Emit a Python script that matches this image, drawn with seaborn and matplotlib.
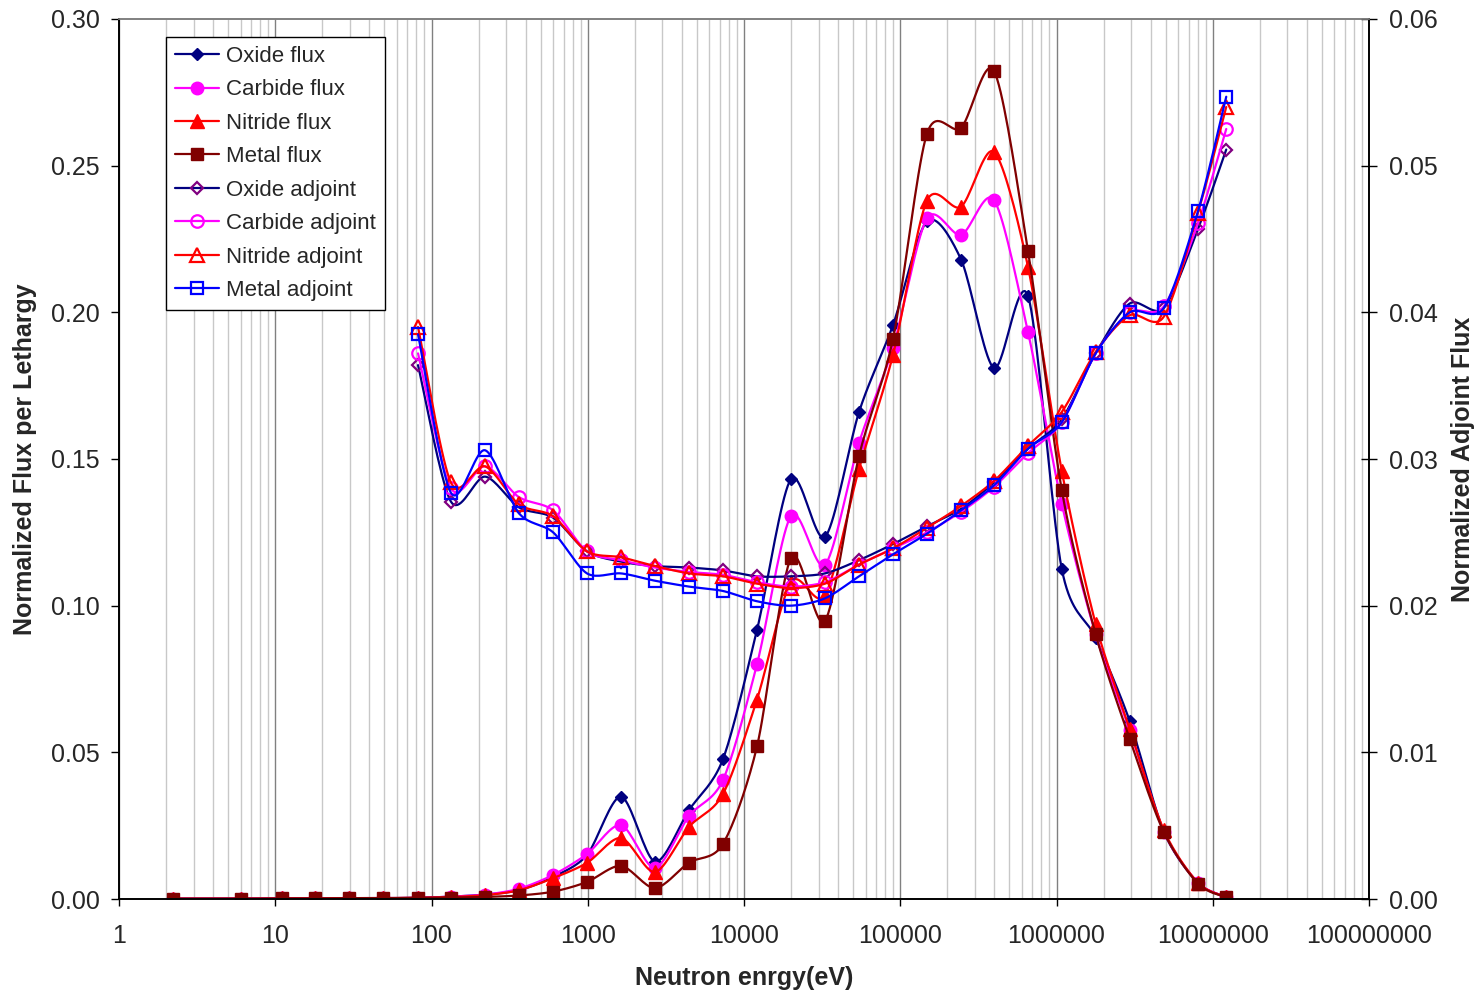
import numpy as np
import seaborn as sns
import matplotlib
matplotlib.use('Agg')
import matplotlib.pyplot as plt
from matplotlib.lines import Line2D
from matplotlib.ticker import (LogLocator, FuncFormatter, MultipleLocator, NullFormatter,
                               FixedLocator)

# energy points (eV)
energy = [2.2, 6.0, 11.0, 18.0, 29.6, 49, 82, 133, 220, 363, 600, 989, 1633, 2694,
          4446, 7340, 12110, 19990, 33000, 54450, 89900, 148000, 245000, 398000,
          657000, 1.08e6, 1.78e6, 2.94e6, 4.86e6, 8.05e6, 1.22e7]
energy_adj = energy[6:]
x_ticks = [1, 10, 100, 1000, 10000, 100000, 1000000, 10000000, 100000000]

oxide_flux = [0.0001, 0.0001, 0.0002, 0.0002, 0.0003, 0.0003, 0.0004, 0.0008, 0.0015, 0.003,
              0.0075, 0.015, 0.0349, 0.0127, 0.0303, 0.0477, 0.0917, 0.1432, 0.1234, 0.166,
              0.1957, 0.231, 0.218, 0.181, 0.2056, 0.1126, 0.089, 0.0607, 0.023, 0.0055, 0.0007]
carbide_flux = [0.0001, 0.0001, 0.0002, 0.0002, 0.0003, 0.0003, 0.0004, 0.0008, 0.0015, 0.0035,
                0.0082, 0.0153, 0.0252, 0.0106, 0.0283, 0.0406, 0.080, 0.1306, 0.1139, 0.1555,
                0.188, 0.232, 0.2264, 0.2383, 0.1933, 0.1348, 0.0903, 0.0575, 0.023, 0.0055, 0.0007]
nitride_flux = [0.0001, 0.0001, 0.0002, 0.0002, 0.0003, 0.0003, 0.0004, 0.0007, 0.0013, 0.003,
                0.0071, 0.0123, 0.0208, 0.0092, 0.0246, 0.0358, 0.068, 0.108, 0.1036, 0.1466,
                0.1855, 0.238, 0.236, 0.2547, 0.2155, 0.146, 0.0938, 0.058, 0.0235, 0.0055, 0.0007]
metal_flux = [0.0001, 0.0001, 0.0002, 0.0002, 0.0003, 0.0003, 0.0004, 0.0005, 0.0007, 0.0012,
              0.0025, 0.0058, 0.0113, 0.0037, 0.0124, 0.0188, 0.052, 0.1163, 0.0948, 0.151,
              0.191, 0.2608, 0.2629, 0.2823, 0.221, 0.1395, 0.0903, 0.0546, 0.0228, 0.0052, 0.0006]

oxide_adj = [0.0364, 0.0271, 0.0288, 0.0267, 0.026, 0.0237, 0.023, 0.0227, 0.0226, 0.0224,
             0.022, 0.022, 0.0222, 0.0231, 0.0242, 0.0254, 0.0266, 0.0284, 0.0307, 0.0327,
             0.0372, 0.0406, 0.0403, 0.0457, 0.0511]
carbide_adj = [0.0372, 0.028, 0.0295, 0.0274, 0.0265, 0.0237, 0.0231, 0.0226, 0.0223, 0.0221,
               0.0216, 0.0213, 0.0216, 0.0228, 0.0239, 0.025, 0.0264, 0.0281, 0.0304, 0.0325,
               0.0372, 0.04, 0.0404, 0.0461, 0.0525]
nitride_adj = [0.039, 0.0284, 0.0295, 0.0269, 0.0261, 0.0237, 0.0233, 0.0227, 0.0222, 0.022,
               0.0215, 0.0212, 0.0215, 0.0228, 0.0239, 0.0253, 0.0268, 0.0285, 0.0309, 0.0332,
               0.0373, 0.0398, 0.0397, 0.0468, 0.054]
metal_adj = [0.0385, 0.0277, 0.0306, 0.0263, 0.025, 0.0222, 0.0222, 0.0217, 0.0213, 0.021,
             0.0203, 0.02, 0.0205, 0.022, 0.0235, 0.0249, 0.0265, 0.0282, 0.0307, 0.0325,
             0.0372, 0.04, 0.0403, 0.0469, 0.0547]

sns.set_theme(style='white')
plt.rcParams['font.family'] = ['Liberation Sans', 'DejaVu Sans']


def smooth(x, y, ymax):
    # Excel-like smoothed line: bezier through the points, in screen-like units
    k = (880 / 156.25) / ymax
    p = np.column_stack([np.log10(x), np.asarray(y) * k])
    p = np.vstack([p[0], p, p[-1]])
    t = np.linspace(0, 1, 20)[:, None]
    out = []
    for i in range(1, len(p) - 2):
        p0, p1, p2, p3 = p[i - 1], p[i], p[i + 1], p[i + 2]
        c1 = p1 + (p2 - p0) / 7
        c2 = p2 - (p3 - p1) / 7
        seg = (1 - t) ** 3 * p1 + 3 * (1 - t) ** 2 * t * c1 + 3 * (1 - t) * t ** 2 * c2 + t ** 3 * p2
        out.append(seg if i == 1 else seg[1:])
    out = np.vstack(out)
    return 10 ** out[:, 0], out[:, 1] / k


fig = plt.figure(figsize=(14.81, 9.96), dpi=100)
ax = fig.add_axes([119 / 1481, 1 - 899 / 996, 1250 / 1481, 880 / 996])
ax.set_xscale('log')
ax.set_xlim(1, 1e8)
ax.set_ylim(0, 0.30)
ax2 = ax.twinx()
ax2.set_ylim(0, 0.06)

flux_series = [
    ('Oxide flux', oxide_flux, '#000080', 'D', '#000080', 6.5),
    ('Carbide flux', carbide_flux, '#FF00FF', 'o', '#FF00FF', 9),
    ('Nitride flux', nitride_flux, '#FF0000', '^', '#FF0000', 9.5),
    ('Metal flux', metal_flux, '#800000', 's', '#800000', 9),
]
adj_series = [
    ('Oxide adjoint', oxide_adj, '#000080', 'D', '#800080', 6.5),
    ('Carbide adjoint', carbide_adj, '#FF00FF', 'o', '#FF00FF', 9),
    ('Nitride adjoint', nitride_adj, '#FF0000', '^', '#FF0000', 9.5),
    ('Metal adjoint', metal_adj, '#0000FF', 's', '#0000FF', 9),
]

handles = []
for name, vals, lc, mk, mc, ms in flux_series:
    xs, ys = smooth(energy, vals, 0.30)
    sns.lineplot(x=xs, y=ys, ax=ax, color=lc, lw=1.6, sort=False, estimator=None)
    ax.plot(energy, vals, ls='none', marker=mk, ms=ms, mfc=mc, mec=mc)
    handles.append(Line2D([], [], color=lc, lw=1.6, marker=mk, ms=ms, mfc=mc, mec=mc, label=name))

for name, vals, lc, mk, mc, ms in adj_series:
    xs, ys = smooth(energy_adj, vals, 0.06)
    sns.lineplot(x=xs, y=ys, ax=ax2, color=lc, lw=1.6, sort=False, estimator=None)
    ax2.plot(energy_adj, vals, ls='none', marker=mk, ms=ms, mfc='none', mec=mc, mew=1.6)
    handles.append(Line2D([], [], color=lc, lw=1.6, marker=mk, ms=ms, mfc='none', mec=mc,
                          mew=1.6, label=name))

# grid and ticks
ax.xaxis.set_major_locator(FixedLocator(x_ticks))
ax.xaxis.set_minor_locator(LogLocator(base=10, subs=np.arange(2, 10), numticks=200))
ax.xaxis.set_major_formatter(FuncFormatter(lambda v, p: f'{int(round(v))}'))
ax.xaxis.set_minor_formatter(NullFormatter())
ax.set_xlim(1, 1e8)
ax.grid(False)
ax2.grid(False)
ax.grid(True, which='major', axis='x', color='#808080', lw=1)
ax.grid(True, which='minor', axis='x', color='#c8c8c8', lw=1)
ax.yaxis.set_major_locator(MultipleLocator(0.05))
ax2.yaxis.set_major_locator(MultipleLocator(0.01))
ax.yaxis.set_major_formatter(FuncFormatter(lambda v, p: f'{v:.2f}'))
ax2.yaxis.set_major_formatter(FuncFormatter(lambda v, p: f'{v:.2f}'))

ax.tick_params(axis='x', which='major', direction='out', length=5, width=1, color='black',
               labelsize=18, pad=13, bottom=True)
ax.tick_params(axis='x', which='minor', length=0)
ax.tick_params(axis='y', direction='out', length=5.8, width=1, color='black', labelsize=18,
               pad=8, left=True)
ax2.tick_params(axis='y', direction='inout', length=11.5, width=1, color='black', labelsize=18,
                pad=9, right=True)

for a in (ax, ax2):
    a.spines['left'].set_color('black')
    a.spines['bottom'].set_color('black')
    a.spines['right'].set_color('black')
    a.spines['top'].set_color('#808080')
    for s in a.spines.values():
        s.set_linewidth(1.2)

ax.set_xlabel('Neutron enrgy(eV)', fontsize=18, fontweight='bold')
ax.set_ylabel('Normalized Flux per Lethargy', fontsize=18, fontweight='bold')
ax2.set_ylabel('Normalized Adjoint Flux', fontsize=18, fontweight='bold')
ax.xaxis.set_label_coords(0.5, -(966 - 899) / 880)
ax.yaxis.set_label_coords(-(119 - 37) / 1250, 0.5)
ax2.yaxis.set_label_coords((1451 - 119) / 1250, 0.5)

leg = ax2.legend(handles=handles, loc='upper left', bbox_to_anchor=(47 / 1250, (899 - 37) / 880),
                 borderaxespad=0, fontsize=16, frameon=True, fancybox=False, handlelength=2.0,
                 handletextpad=0.3, labelspacing=0.56, borderpad=0.4)
leg.get_frame().set_edgecolor('black')
leg.get_frame().set_linewidth(1)
leg.get_frame().set_alpha(1)

fig.savefig('out.png', dpi=100)
